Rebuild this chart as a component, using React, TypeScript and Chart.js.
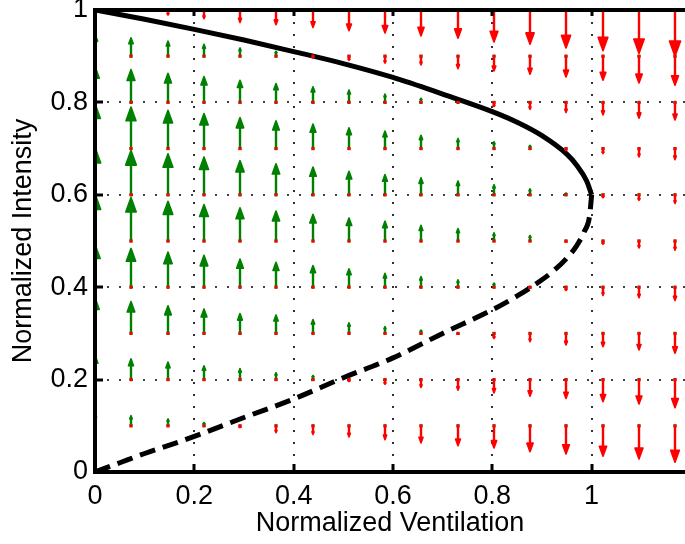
import { useEffect, useRef } from 'react';
import { Chart, registerables } from 'chart.js';

Chart.register(...registerables);

const FONT = "'Liberation Sans', Arial, Helvetica, sans-serif";
const GREEN = '#008000';
const RED = '#ff0000';

// Axis setup
const xAxisMax = 1.188;
const xTickValues = [0, 0.2, 0.4, 0.6, 0.8, 1];
const xTickLabels = ['0', '0.2', '0.4', '0.6', '0.8', '1'];
const yTickValues = [0, 0.2, 0.4, 0.6, 0.8, 1];
const yTickLabels = ['0', '0.2', '0.4', '0.6', '0.8', '1'];

// Stable (solid) branch of the equilibrium curve
const upperV = [0, 0.1, 0.2, 0.3, 0.4, 0.5, 0.6, 0.7, 0.8, 0.85, 0.9, 0.95, 0.97, 0.99, 1.0];
const upperI = [1.0, 0.98, 0.958, 0.935, 0.91, 0.884, 0.854, 0.818, 0.78, 0.757, 0.728, 0.688, 0.664, 0.63, 0.6];

// Unstable (dashed) branch
const lowerV = [0, 0.05, 0.1, 0.15, 0.2, 0.3, 0.4, 0.5, 0.6, 0.7, 0.8, 0.85, 0.9, 0.925, 0.95, 0.97, 0.985, 0.996, 1.0];
const lowerI = [0, 0.02, 0.04, 0.058, 0.077, 0.118, 0.158, 0.204, 0.247, 0.3, 0.351, 0.381, 0.416, 0.437, 0.463, 0.49, 0.52, 0.555, 0.6];

// Quiver grid
const gridV = [0, 0.073, 0.146, 0.219, 0.292, 0.365, 0.438, 0.511, 0.584, 0.657, 0.73, 0.803, 0.876, 0.949, 1.022, 1.095, 1.168];
const gridI = [0.1, 0.2, 0.3, 0.4, 0.5, 0.6, 0.7, 0.8, 0.9, 1.0];

// dI (vertical component) per column, rows follow gridI
const dI_c00 = [0.028, 0.053, 0.077, 0.093, 0.102, 0.103, 0.097, 0.078, 0.048, 0.0];
const dI_c01 = [0.022, 0.045, 0.069, 0.084, 0.094, 0.096, 0.09, 0.071, 0.04, -0.002];
const dI_c02 = [0.015, 0.038, 0.06, 0.076, 0.086, 0.089, 0.083, 0.063, 0.033, -0.011];
const dI_c03 = [0.007, 0.03, 0.053, 0.069, 0.079, 0.082, 0.076, 0.056, 0.026, -0.019];
const dI_c04 = [-0.004, 0.024, 0.043, 0.061, 0.072, 0.074, 0.067, 0.048, 0.018, -0.027];
const dI_c05 = [-0.015, 0.015, 0.04, 0.054, 0.065, 0.067, 0.06, 0.041, 0.011, -0.032];
const dI_c06 = [-0.019, 0.009, 0.03, 0.047, 0.058, 0.06, 0.053, 0.034, -0.004, -0.038];
const dI_c07 = [-0.024, -0.004, 0.023, 0.04, 0.05, 0.051, 0.045, 0.027, -0.009, -0.045];
const dI_c08 = [-0.03, -0.01, 0.015, 0.03, 0.043, 0.044, 0.038, 0.018, -0.015, -0.05];
const dI_c09 = [-0.037, -0.017, 0.007, 0.023, 0.034, 0.037, 0.029, 0.009, -0.019, -0.056];
const dI_c10 = [-0.043, -0.023, -0.002, 0.016, 0.027, 0.03, 0.022, 0.001, -0.027, -0.061];
const dI_c11 = [-0.048, -0.029, -0.011, 0.009, 0.018, 0.022, 0.015, -0.009, -0.032, -0.069];
const dI_c12 = [-0.056, -0.036, -0.018, -0.002, 0.012, 0.013, 0.007, -0.015, -0.039, -0.074];
const dI_c13 = [-0.061, -0.041, -0.025, -0.007, -0.002, 0.004, -0.004, -0.022, -0.045, -0.082];
const dI_c14 = [-0.066, -0.048, -0.029, -0.018, -0.007, -0.006, -0.011, -0.027, -0.052, -0.088];
const dI_c15 = [-0.072, -0.053, -0.036, -0.023, -0.015, -0.012, -0.018, -0.034, -0.058, -0.094];
const dI_c16 = [-0.079, -0.061, -0.043, -0.029, -0.02, -0.019, -0.024, -0.038, -0.063, -0.1];

const quiverColumns = [
  dI_c00, dI_c01, dI_c02, dI_c03, dI_c04, dI_c05, dI_c06, dI_c07, dI_c08,
  dI_c09, dI_c10, dI_c11, dI_c12, dI_c13, dI_c14, dI_c15, dI_c16,
];

const matlabPlugin = {
  id: 'matlabLook',
  beforeDatasetsDraw(chart: any) {
    const { ctx, chartArea: a, scales } = chart;
    const xs = scales.x, ys = scales.y;
    ctx.save();
    ctx.strokeStyle = '#000';
    ctx.lineWidth = 1.6;
    ctx.setLineDash([2, 10]);
    xTickValues.forEach((v) => {
      if (v <= 0) return;
      const px = Math.round(xs.getPixelForValue(v));
      ctx.beginPath();
      ctx.moveTo(px, a.top);
      ctx.lineTo(px, a.bottom);
      ctx.stroke();
    });
    yTickValues.forEach((v) => {
      if (v <= 0 || v >= 1) return;
      const py = Math.round(ys.getPixelForValue(v));
      ctx.beginPath();
      ctx.moveTo(a.left, py);
      ctx.lineTo(a.right, py);
      ctx.stroke();
    });
    ctx.restore();
  },
  afterDatasetsDraw(chart: any) {
    const { ctx, chartArea: a, scales } = chart;
    const xs = scales.x, ys = scales.y;
    // quiver
    ctx.save();
    ctx.beginPath();
    ctx.rect(a.left, a.top, a.right - a.left, a.bottom - a.top);
    ctx.clip();
    const pts: { px: number; py0: number; py1: number; d: number }[] = [];
    gridV.forEach((v, c) => {
      gridI.forEach((iv, r) => {
        const d = quiverColumns[c][r];
        pts.push({
          px: Math.round(xs.getPixelForValue(v)),
          py0: ys.getPixelForValue(iv),
          py1: ys.getPixelForValue(iv + d),
          d,
        });
      });
    });
    const drawDots = (color: string) => {
      ctx.fillStyle = color;
      pts.forEach((p) => ctx.fillRect(p.px - 1.5, p.py0 - 1.5, 3, 3));
    };
    const drawArrows = (color: string, positive: boolean) => {
      ctx.strokeStyle = color;
      ctx.fillStyle = color;
      pts.forEach((p) => {
        if (positive ? p.d <= 0 : p.d >= 0) return;
        const L = p.py1 - p.py0;
        const len = Math.abs(L);
        if (len < 0.8) return;
        const dir = Math.sign(L);
        const headLen = 0.33 * len;
        const halfW = Math.max(0.12 * len, 1);
        ctx.lineWidth = 2.4;
        ctx.lineCap = 'butt';
        ctx.beginPath();
        ctx.moveTo(p.px, p.py0);
        ctx.lineTo(p.px, p.py1 - dir * headLen * 0.5);
        ctx.stroke();
        ctx.beginPath();
        ctx.moveTo(p.px, p.py1);
        ctx.lineTo(p.px - halfW, p.py1 - dir * headLen);
        ctx.lineTo(p.px + halfW, p.py1 - dir * headLen);
        ctx.closePath();
        ctx.fill();
        ctx.lineWidth = 1.6;
        ctx.lineJoin = 'round';
        ctx.stroke();
      });
    };
    drawDots(GREEN);
    drawArrows(GREEN, true);
    drawDots(RED);
    drawArrows(RED, false);
    ctx.restore();

    // axes box (left, bottom, top) and inward ticks
    ctx.save();
    ctx.strokeStyle = '#000';
    ctx.setLineDash([]);
    ctx.lineWidth = 4;
    ctx.lineCap = 'square';
    ctx.beginPath();
    ctx.moveTo(a.right + 4, a.top);
    ctx.lineTo(a.left, a.top);
    ctx.lineTo(a.left, a.bottom);
    ctx.lineTo(a.right + 4, a.bottom);
    ctx.stroke();
    ctx.lineCap = 'butt';
    ctx.lineWidth = 3;
    xTickValues.forEach((v) => {
      const px = Math.round(xs.getPixelForValue(v));
      ctx.beginPath();
      ctx.moveTo(px, a.bottom);
      ctx.lineTo(px, a.bottom - 8);
      ctx.moveTo(px, a.top);
      ctx.lineTo(px, a.top + 6);
      ctx.stroke();
    });
    yTickValues.forEach((v) => {
      const py = Math.round(ys.getPixelForValue(v));
      ctx.beginPath();
      ctx.moveTo(a.left, py);
      ctx.lineTo(a.left + 8, py);
      ctx.stroke();
    });
    ctx.restore();
  },
};

export default function App() {
  const ref = useRef<HTMLCanvasElement>(null);
  useEffect(() => {
    const canvas = ref.current;
    if (!canvas) return;
    const upperData = upperV.map((v, k) => ({ x: v, y: upperI[k] }));
    const lowerData = lowerV.map((v, k) => ({ x: v, y: lowerI[k] }));
    const chart = new Chart(canvas, {
      type: 'scatter',
      data: {
        datasets: [
          {
            label: 'Stable',
            data: upperData,
            showLine: true,
            borderColor: '#000',
            backgroundColor: '#000',
            borderWidth: 5,
            pointRadius: 0,
            cubicInterpolationMode: 'monotone',
            fill: false,
          },
          {
            label: 'Unstable',
            data: lowerData,
            showLine: true,
            borderColor: '#000',
            backgroundColor: '#000',
            borderWidth: 5,
            borderDash: [16, 8],
            pointRadius: 0,
            cubicInterpolationMode: 'monotone',
            fill: false,
          },
        ],
      },
      options: {
        animation: false,
        responsive: false,
        devicePixelRatio: 1,
        events: [],
        layout: { padding: { top: 10, right: 0, bottom: 0, left: 0 } },
        plugins: { legend: { display: false }, tooltip: { enabled: false } },
        scales: {
          x: {
            type: 'linear',
            min: 0,
            max: xAxisMax,
            afterBuildTicks: (s: any) => {
              s.ticks = xTickValues.map((v) => ({ value: v }));
            },
            afterFit: (s: any) => {
              s.height = 72;
              s.paddingLeft = 0;
              s.paddingRight = 0;
            },
            grid: { display: false, drawTicks: false },
            border: { display: false },
            ticks: {
              autoSkip: false,
              maxRotation: 0,
              padding: 8,
              color: '#000',
              font: { family: FONT, size: 27 },
              callback: (_v: any, i: number) => xTickLabels[i],
            },
            title: {
              display: true,
              text: 'Normalized Ventilation',
              color: '#000',
              font: { family: FONT, size: 27 },
              padding: { top: 0, bottom: 4 },
            },
          },
          y: {
            type: 'linear',
            min: 0,
            max: 1,
            afterBuildTicks: (s: any) => {
              s.ticks = yTickValues.map((v) => ({ value: v }));
            },
            afterFit: (s: any) => {
              s.width = 95;
              s.paddingTop = 0;
              s.paddingBottom = 0;
            },
            grid: { display: false, drawTicks: false },
            border: { display: false },
            ticks: {
              autoSkip: false,
              padding: 7,
              color: '#000',
              font: { family: FONT, size: 27 },
              callback: (_v: any, i: number) => yTickLabels[i],
            },
            title: {
              display: true,
              text: 'Normalized Intensity',
              color: '#000',
              font: { family: FONT, size: 27 },
              padding: { top: 7, bottom: 0 },
            },
          },
        },
      } as any,
      plugins: [matlabPlugin],
    });
    return () => chart.destroy();
  }, []);
  return (
    <div style={{ position: 'absolute', left: 0, top: 0, width: 685, height: 544, background: '#fff' }}>
      <canvas ref={ref} width={685} height={544} style={{ display: 'block' }} />
    </div>
  );
}
